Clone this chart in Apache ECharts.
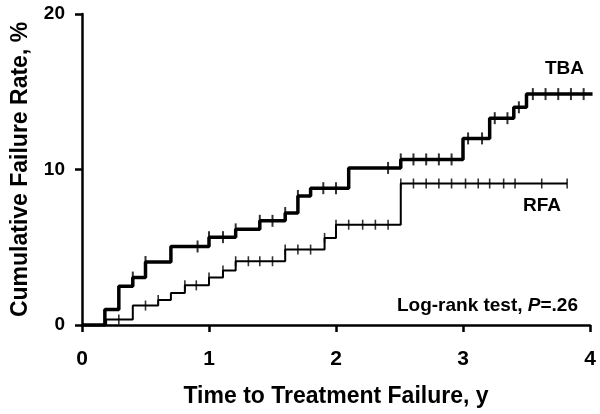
<!DOCTYPE html>
<html>
<head>
<meta charset="utf-8">
<script src="https://cdn.jsdelivr.net/npm/echarts@6/dist/echarts.min.js"></script>
<style>
  html, body { margin: 0; padding: 0; background: #fff; }
  #chart { width: 600px; height: 414px; }
</style>
</head>
<body>
<div id="chart"></div>
<script>
// step points: [time in years, cumulative failure % after that time]
const tbaSteps = [
  [0, 0], [0.18, 1.0], [0.29, 2.5], [0.40, 3.05], [0.50, 4.05], [0.70, 5.05],
  [1.0, 5.65], [1.21, 6.15], [1.40, 6.7], [1.60, 7.2], [1.70, 8.3], [1.80, 8.8],
  [2.10, 10.1], [2.51, 10.65], [3.0, 12.0], [3.21, 13.3], [3.40, 14.0], [3.50, 14.85],
  [4.02, 14.85]
]
const rfaSteps = [
  [0, 0], [0.19, 0.35], [0.40, 1.25], [0.60, 1.6], [0.70, 2.05], [0.81, 2.55],
  [1.0, 3.05], [1.11, 3.5], [1.21, 4.1], [1.60, 4.85], [1.91, 5.6], [2.0, 6.45],
  [2.51, 9.1], [3.82, 9.1]
]
// censoring marks (times)
const tbaCensor = [0.40, 0.50, 0.91, 1.0, 1.11, 1.21, 1.40, 1.50, 1.60, 1.70, 1.90, 2.0,
  2.41, 2.51, 2.61, 2.71, 2.81, 2.91, 3.04, 3.15, 3.25, 3.35, 3.44, 3.55, 3.65, 3.75, 3.85, 3.95]
const rfaCensor = [0.29, 0.50, 0.60, 0.81, 0.90, 1.0, 1.11, 1.21, 1.31, 1.40, 1.50, 1.60,
  1.70, 1.80, 1.91, 2.0, 2.10, 2.21, 2.31, 2.41, 2.51, 2.61, 2.71, 2.81, 2.91, 3.02, 3.12,
  3.21, 3.32, 3.41, 3.62, 3.82]
const xTicks = [0, 4, 1]
const yTicks = [0, 20, 10]

const FONT = '"Liberation Sans", Arial, sans-serif'

function valueAt(steps, t) {
  let v = 0
  for (const [x, y] of steps) if (x <= t + 1e-9) v = y
  return v
}

const chart = echarts.init(document.getElementById('chart'))
chart.setOption({
  animation: false,
  backgroundColor: '#fff',
  grid: { left: 82, right: 10, top: 14, bottom: 89, outerBoundsMode: 'none' },
  xAxis: {
    type: 'value',
    min: xTicks[0], max: xTicks[1], interval: xTicks[2],
    name: 'Time to Treatment Failure, y',
    nameLocation: 'middle',
    nameGap: 60,
    nameTextStyle: { color: '#000', fontFamily: FONT, fontWeight: 'bold', fontSize: 23 },
    splitLine: { show: false },
    axisLine: { lineStyle: { color: '#000', width: 2.5 } },
    axisTick: { length: 7, lineStyle: { color: '#000', width: 2.5 } },
    axisLabel: { color: '#000', fontFamily: FONT, fontWeight: 'bold', fontSize: 21, margin: 24 }
  },
  yAxis: {
    type: 'value',
    min: yTicks[0], max: yTicks[1], interval: yTicks[2],
    name: 'Cumulative Failure Rate, %',
    nameLocation: 'middle',
    nameGap: 50,
    nameTextStyle: { color: '#000', fontFamily: FONT, fontWeight: 'bold', fontSize: 23 },
    splitLine: { show: false },
    axisLine: { show: true, lineStyle: { color: '#000', width: 2.5 } },
    axisTick: { show: true, length: 7, lineStyle: { color: '#000', width: 2.5 } },
    axisLabel: { color: '#000', fontFamily: FONT, fontWeight: 'bold', fontSize: 19, margin: 17 }
  },
  series: [
    {
      name: 'TBA', type: 'line', step: 'end', data: tbaSteps,
      showSymbol: false, lineStyle: { color: '#000', width: 3.5 }, z: 3
    },
    {
      name: 'RFA', type: 'line', step: 'end', data: rfaSteps,
      showSymbol: false, lineStyle: { color: '#000', width: 2 }, z: 3
    },
    {
      type: 'scatter', data: tbaCensor.map((t) => [t, valueAt(tbaSteps, t)]),
      symbol: 'rect', symbolSize: [2, 12], itemStyle: { color: '#000' }, z: 4
    },
    {
      type: 'scatter', data: rfaCensor.map((t) => [t, valueAt(rfaSteps, t)]),
      symbol: 'rect', symbolSize: [1.6, 10], itemStyle: { color: '#000' }, z: 4
    }
  ],
  graphic: [
    {
      type: 'text', left: 545, top: 59,
      style: { text: 'TBA', fill: '#000', font: 'bold 19px ' + FONT }
    },
    {
      type: 'text', left: 523, top: 196,
      style: { text: 'RFA', fill: '#000', font: 'bold 19px ' + FONT }
    },
    {
      type: 'text', x: 578, y: 306,
      style: {
        text: '{a|Log-rank test, }{p|P}{a|=.26}',
        align: 'right', verticalAlign: 'middle',
        rich: {
          a: { fill: '#000', fontFamily: FONT, fontWeight: 'bold', fontSize: 19 },
          p: { fill: '#000', fontFamily: FONT, fontWeight: 'bold', fontStyle: 'italic', fontSize: 19 }
        }
      }
    }
  ]
})
</script>
</body>
</html>
